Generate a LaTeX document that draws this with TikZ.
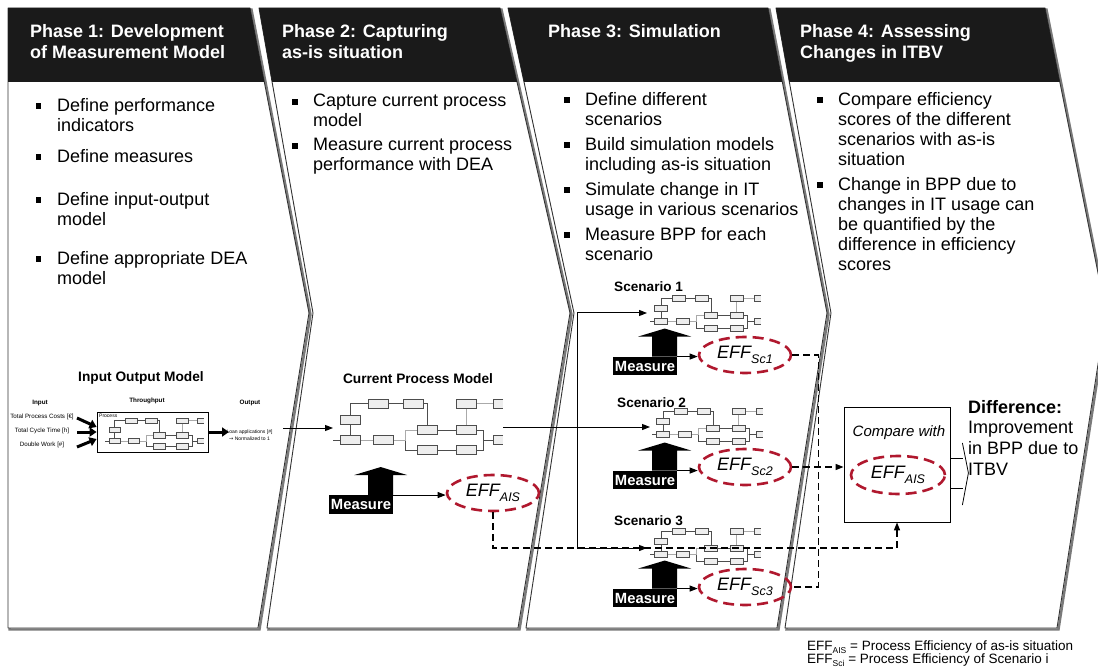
\documentclass[tikz,border=0pt]{standalone}
\usepackage{fontspec}
\setmainfont{Liberation Sans}
\newfontfamily\djv{DejaVu Sans}
\usetikzlibrary{arrows.meta,shapes.geometric}
\definecolor{hdr}{HTML}{1A1A1A}
\definecolor{effred}{HTML}{B0182E}
\definecolor{boxfill}{HTML}{EEEEEE}
\definecolor{boxline}{HTML}{4D4D4D}
\definecolor{lightline}{HTML}{AAAAAA}
\definecolor{edgec}{HTML}{333333}
\definecolor{shadowc}{HTML}{7A7A7A}
\newcommand\effsub[1]{\raisebox{-4.5pt}{\fontsize{12.5}{13}\selectfont\itshape #1}}
\newcommand\legsub[1]{\raisebox{-2.5pt}{\fontsize{8.5}{9}\selectfont #1}}
\newcommand\measarrow[1]{\fill[black] (#1.north east) -- ++(0,-20) -- ++(14,0) -- ++(-26.5,-8) -- ++(-26.5,8) -- ++(14,0) -- ++(0,20) -- cycle;}
\newcommand\procmini[3]{%
\begin{scope}[shift={#1}, xscale=#2, yscale=#3]
 \draw[boxline, line width=0.8pt] (0,41) -- (7,41) (17,36) -- (17,26) (17,16) -- (17,4.5) -- (35,4.5) (55,4.5) -- (70,4.5) (90,4.5) -- (94,4.5) -- (94,26) (72,41) -- (72,51) -- (84,51) (104,31) -- (123,31) (104,51) -- (123,51) (143,31) -- (150,31) -- (150,51) -- (143,51) (150,41) -- (160,41);
 \draw[lightline, line width=0.8pt] (143,4.5) -- (160,4.5) (133,9) -- (133,26) (27,41) -- (40,41) (60,41) -- (72,41) -- (72,31) -- (84,31);
 \foreach \bx/\by in {35/0,70/0,123/0,7/16,7/36,40/36,84/26,123/26,84/46,123/46}
   \draw[boxline, fill=boxfill, line width=0.7pt] (\bx,\by) rectangle ++(20,9.5);
 \foreach \by in {0,36}
   \draw[boxline, fill=boxfill, line width=0.7pt] (170,\by) -- (160,\by) -- (160,\by+9.5) -- (170,\by+9.5);
\end{scope}}
\begin{document}
\begin{tikzpicture}[x=1pt,y=-1pt,
 panel/.style={fill=white, draw=edgec, line width=0.9pt, line join=round,
   preaction={draw=shadowc, line width=2.4pt, transform canvas={shift={(1.5pt,-1.5pt)}}}},
 hdrtext/.style={text=white, font=\fontsize{18}{21.5}\selectfont\bfseries, align=left, anchor=north west, inner sep=0},
 bul/.style={fill=black, minimum size=5.5pt, inner sep=0},
 btxt/.style={font=\fontsize{18}{20}\selectfont, align=left, anchor=north west, inner sep=0},
 ttl/.style={font=\fontsize{13.7}{16}\selectfont\bfseries, inner sep=0},
 scen/.style={font=\fontsize{13.6}{16}\selectfont\bfseries, inner sep=0, anchor=west},
 tinyt/.style={font=\fontsize{6.2}{7.5}\selectfont, inner sep=0, align=center},
 tinyb/.style={font=\fontsize{6.3}{7.5}\selectfont\bfseries, inner sep=0},
 measure/.style={fill=black, text=white, font=\fontsize{14.8}{16}\selectfont\bfseries, inner sep=0, minimum width=64pt, minimum height=18.5pt},
 eff/.style={ellipse, draw=effred, line width=2.6pt, dash pattern=on 11pt off 6pt, minimum width=92pt, minimum height=36pt, inner sep=0, font=\fontsize{18}{20}\selectfont\itshape},
 conn/.style={draw=black, line width=1pt, -{Triangle[length=8pt,width=6pt]}},
 solidline/.style={draw=black, line width=1pt},
 dconn/.style={draw=black, line width=1.4pt, dash pattern=on 7pt off 4pt},
 fatarrow/.style={draw=black, line width=3pt, -{Triangle[length=7pt,width=9pt]}},
]
\useasboundingbox (0,0) rectangle (1098,668);
% panels
\path[panel] (8,8) -- (250,8) -- (309,313) -- (258,628) -- (8,628) -- cycle;
\path[panel] (259,8) -- (500,8) -- (570,313) -- (518,628) -- (267,628) -- (313,313) -- cycle;
\path[panel] (508,8) -- (768,8) -- (827,313) -- (777,628) -- (526,628) -- (574,313) -- cycle;
\path[panel] (776,8) -- (1045,8) -- (1106,313) -- (1057,628) -- (785,628) -- (831,313) -- cycle;
% headers
\fill[hdr] (8,8) -- (250,8) -- (264.3,82) -- (8,82) -- cycle;
\fill[hdr] (259,8) -- (500,8) -- (517,82) -- (272.1,82) -- cycle;
\fill[hdr] (508,8) -- (768,8) -- (782.3,82) -- (524,82) -- cycle;
\fill[hdr] (776,8) -- (1045,8) -- (1059.8,82) -- (789.3,82) -- cycle;
\node[hdrtext] (h1) at (30,24) {Phase 1: Development\\of Measurement Model};
\node[hdrtext] (h2) at (282,24) {Phase 2: Capturing\\as-is situation};
\node[hdrtext] (h3) at (548,24) {Phase 3: Simulation};
\node[hdrtext] (h4) at (800,24) {Phase 4: Assessing\\Changes in ITBV};
% bullets panel 1
\node[btxt] (t11) at (57,98) {Define performance\\indicators};
\node[btxt] (t12) at (57,149) {Define measures};
\node[btxt] (t13) at (57,192) {Define input-output\\model};
\node[btxt] (t14) at (57,251) {Define appropriate DEA\\model};
\foreach \n/\y in {q11/98,q12/149,q13/192,q14/251} \node[bul] (\n) at (38.5,\y+8) {};
% bullets panel 2
\node[btxt] (t21) at (313,94) {Capture current process\\model};
\node[btxt] (t22) at (313,138) {Measure current process\\performance with DEA};
\foreach \n/\y in {q21/94,q22/138} \node[bul] (\n) at (295,\y+8) {};
% bullets panel 3
\node[btxt] (t31) at (585,92) {Define different\\scenarios};
\node[btxt] (t32) at (585,137) {Build simulation models\\including as-is situation};
\node[btxt] (t33) at (585,182) {Simulate change in IT\\usage in various scenarios};
\node[btxt] (t34) at (585,227) {Measure BPP for each\\scenario};
\foreach \n/\y in {q31/92,q32/137,q33/182,q34/227} \node[bul] (\n) at (567,\y+8) {};
% bullets panel 4
\node[btxt] (t41) at (838,92) {Compare efficiency\\scores of the different\\scenarios with as-is\\situation};
\node[btxt] (t42) at (838,177) {Change in BPP due to\\changes in IT usage can\\be quantified by the\\difference in efficiency\\scores};
\foreach \n/\y in {q41/92,q42/177} \node[bul] (\n) at (820,\y+8) {};
% input output model
\node[ttl] (iot) at (141,378) {Input Output Model};
\node[tinyb] (ioin) at (40,403) {Input};
\node[tinyb] (iothr) at (147,401) {Throughput};
\node[tinyb] (ioout) at (250,403) {Output};
\node[tinyt] (in1) at (42,417) {Total Process Costs [€]};
\node[tinyt] (in2) at (42,431) {Total Cycle Time [h]};
\node[tinyt] (in3) at (42,445) {Double Work [\#]};
\node[draw=black, line width=0.8pt, minimum width=111pt, minimum height=40pt, inner sep=0] (pbox) at (152.5,432) {};
\node[anchor=north west, inner sep=0, font=\fontsize{5}{6}\selectfont] (plab) at (99,414) {Process};
\procmini{(105,418)}{0.58}{0.56}
\node[tinyt, font=\fontsize{5}{6.5}\selectfont] (loan) at (249.5,435) {Loan applications [\#]\\{\djv →} Normalized to 1};
\coordinate (a1s) at (77,418);
\coordinate (a2s) at (77,432);
\coordinate (a3s) at (77,447);
\coordinate (ioend) at (229,432);
\draw[fatarrow] (a1s) -- ([yshift=5pt]pbox.west);
\draw[fatarrow] (a2s) -- (pbox.west);
\draw[fatarrow] (a3s) -- ([yshift=-7pt]pbox.west);
\draw[fatarrow] (pbox.east) -- (ioend);
% current process model
\node[ttl] (cpt) at (418,379) {Current Process Model};
\procmini{(333,399)}{1}{1}
\coordinate (loanout) at (283,428);
\coordinate (cpin) at (333,428);
\coordinate (cpout) at (503,427);
\draw[conn] (loanout) -- (cpin);
\node[measure] (m0) at (361,504.5) {Measure};
\measarrow{m0}
\node[eff] (e0) at (493,493) {EFF\effsub{AIS}};
\draw[conn] (m0.north east) -- (m0.north east -| e0.west);
% scenarios
\node[scen] (s1) at (614,287) {Scenario 1};
\procmini{(650,295)}{0.65}{0.65}
\node[measure] (m1) at (645,366) {Measure};
\measarrow{m1}
\node[eff] (e1) at (745,355) {EFF\effsub{Sc1}};
\draw[conn] (m1.north east) -- (m1.north east -| e1.west);
\node[scen] (s2) at (617,403) {Scenario 2};
\procmini{(652,408)}{0.65}{0.65}
\node[measure] (m2) at (645,480) {Measure};
\measarrow{m2}
\node[eff] (e2) at (745,467) {EFF\effsub{Sc2}};
\draw[conn] (m2.north east) -- (m2.north east -| e2.west);
\node[scen] (s3) at (614,521) {Scenario 3};
\procmini{(650,528)}{0.65}{0.65}
\node[measure] (m3) at (645,598) {Measure};
\measarrow{m3}
\node[eff] (e3) at (745,587) {EFF\effsub{Sc3}};
\draw[conn] (m3.north east) -- (m3.north east -| e3.west);
% distribution lines
\coordinate (vtop) at (577,313);
\coordinate (vbot) at (577,548);
\coordinate (sc1in) at (647,313);
\coordinate (sc2in) at (650,427);
\coordinate (sc3in) at (647,548);
\draw[solidline] (cpout) -- (vtop |- cpout);
\draw[solidline] (vtop) -- (vbot);
\draw[conn] (vtop) -- (sc1in);
\draw[conn] (vtop |- sc2in) -- (sc2in);
\draw[conn] (vbot) -- (sc3in);
% compare box
\node[draw=black, line width=0.8pt, minimum width=106pt, minimum height=115pt, inner sep=0] (cmp) at (897,464.5) {};
\node[font=\fontsize{15}{17}\selectfont\itshape, inner sep=0] (cmpt) at (899,433) {Compare with};
\node[eff, minimum width=94pt, minimum height=38pt] (ec) at (898,475) {EFF\effsub{AIS}};
\draw[line width=0.8pt] ([yshift=6.5pt]cmp.east) -- ++(13,0) ([yshift=-23.5pt]cmp.east) -- ++(13,0);
\draw[line width=0.8pt] ([xshift=12pt,yshift=21.5pt]cmp.east) -- ([xshift=18pt,yshift=-8.5pt]cmp.east) -- ([xshift=12pt,yshift=-40.5pt]cmp.east);
\node[font=\fontsize{18}{20.7}\selectfont, align=left, anchor=north west, inner sep=0] (diff) at (968,400) {\textbf{Difference:}\\Improvement\\in BPP due to\\ITBV};
% dashed efficiency connectors
\draw[dconn, -{Triangle[length=8pt,width=6pt]}] (e0.south) -- (e0.south |- vbot) -| (cmp.south);
\draw[dconn] (e1.east) -- ++(26,0) |- (e3.east);
\draw[dconn, -{Triangle[length=8pt,width=6pt]}] (e2.east) -- (e2.east -| cmp.west);
% legend
\node[font=\fontsize{13.5}{13}\selectfont, align=left, anchor=north west, inner sep=0] (leg) at (807,641) {EFF\legsub{AIS} = Process Efficiency of as-is situation\\EFF\legsub{Sci} = Process Efficiency of Scenario i};
\end{tikzpicture}
\end{document}
